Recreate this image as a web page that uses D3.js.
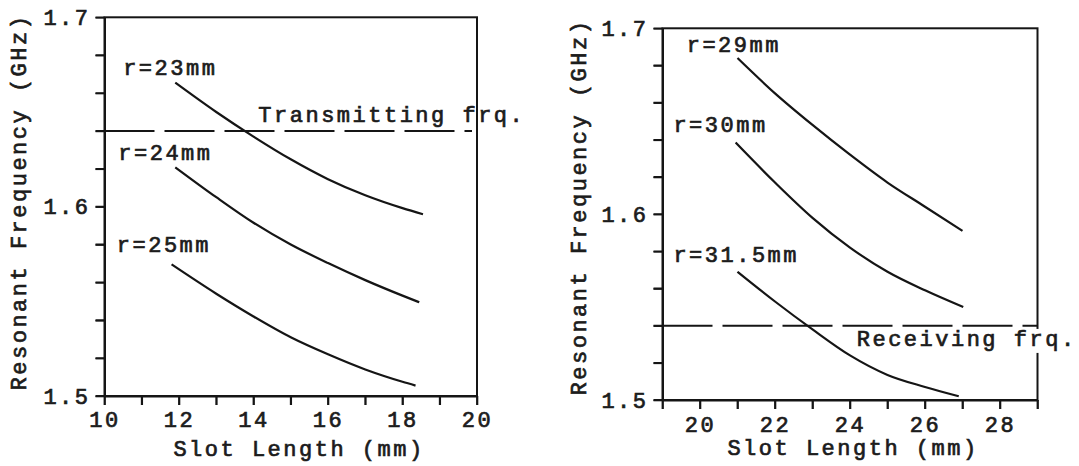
<!DOCTYPE html>
<html>
<head>
<meta charset="utf-8">
<script src="https://cdn.jsdelivr.net/npm/d3@7"></script>
<style>
  body { margin: 0; background: #fff; }
  svg text {
    font-family: "Liberation Mono", "DejaVu Sans Mono", monospace;
    font-size: 22px;
    letter-spacing: 2.5px;
    fill: #1c1c1c;
    stroke: #1c1c1c;
    stroke-width: 0.7px;
  }
</style>
</head>
<body>
<svg id="chart" width="1079" height="466"></svg>
<script>
// ---- data ----
// left panel: slot length (mm) vs resonant frequency (GHz)
const slot23 = [11.9, 13, 14, 15, 16, 17, 18, 18.55];
const freq23 = [1.6655, 1.650, 1.637, 1.625, 1.6145, 1.606, 1.5992, 1.596];
const slot24 = [11.9, 13, 14, 15, 16, 17, 18, 18.45];
const freq24 = [1.6208, 1.605, 1.5915, 1.580, 1.5702, 1.5612, 1.553, 1.5495];
const slot25 = [11.8, 13, 14, 15, 16, 17, 18, 18.35];
const freq25 = [1.5695, 1.554, 1.542, 1.531, 1.522, 1.514, 1.5075, 1.5055];

// right panel
const slot29 = [21.0, 22, 23, 24, 25, 26, 27];
const freq29 = [1.684, 1.665, 1.648, 1.632, 1.617, 1.604, 1.591];
const slot30 = [20.95, 22, 23, 24, 25, 26, 27.02];
const freq30 = [1.6385, 1.617, 1.598, 1.582, 1.569, 1.559, 1.550];
const slot315 = [21.0, 22, 23, 24, 25, 26, 26.9];
const freq315 = [1.569, 1.553, 1.538, 1.524, 1.5135, 1.507, 1.502];

const transmitFreq = 1.64;
const receiveFreq = 1.54;

const leftXTicks = [10, 11, 12, 13, 14, 15, 16, 17, 18, 19, 20];
const rightXTicks = [19, 20, 21, 22, 23, 24, 25, 26, 27, 28, 29];
const yTicks = [1.5, 1.52, 1.54, 1.56, 1.58, 1.6, 1.62, 1.64, 1.66, 1.68, 1.7];

// curve labels (anchored in data units)
const leftLabels = [
  { text: "r=23mm", x: 10.5, y: 1.6695 },
  { text: "r=24mm", x: 10.37, y: 1.6246 },
  { text: "r=25mm", x: 10.33, y: 1.5762 }
];
const rightLabels = [
  { text: "r=29mm", x: 19.645, y: 1.6874 },
  { text: "r=30mm", x: 19.29, y: 1.6444 },
  { text: "r=31.5mm", x: 19.29, y: 1.5744 }
];

const svg = d3.select("#chart");

const panels = [
  {
    xDomain: [10, 20], xRange: [104.5, 477], yRange: [396, 17.3],
    xTicks: leftXTicks, labelPad: 6.5,
    series: [[slot23, freq23], [slot24, freq24], [slot25, freq25]],
    labels: leftLabels,
    refFreq: transmitFreq, refText: "Transmitting frq.", refTextPos: { x: 14.13, y: 1.6449 },
    refEnd: 472,
    xTitlePos: [299, 456], yTitlePos: [26, 202]
  },
  {
    xDomain: [19, 29], xRange: [662.5, 1037.5], yRange: [400, 28.3],
    xTicks: rightXTicks, labelPad: 7.5,
    series: [[slot29, freq29], [slot30, freq30], [slot315, freq315]],
    labels: rightLabels,
    refFreq: receiveFreq, refText: "Receiving frq.", refTextPos: { x: 24.18, y: 1.5291 },
    refEnd: null,
    xTitlePos: [853, 455], yTitlePos: [586, 207]
  }
];

const ink = "#151515";

function isMajorY(d) { return Math.abs(d * 10 - Math.round(d * 10)) < 1e-6; }

panels.forEach(p => {
  const x = d3.scaleLinear().domain(p.xDomain).range(p.xRange);
  const y = d3.scaleLinear().domain([1.5, 1.7]).range(p.yRange);
  const g = svg.append("g");

  const xl = x.range()[0], xr = x.range()[1];
  const yt = y(1.7), yb = y(1.5);
  const base = y(p.refTextPos.y);

  // axes (tick labels)
  const xAxis = d3.axisBottom(x)
    .tickValues(p.xTicks)
    .tickSize(9).tickSizeOuter(0).tickPadding(p.labelPad)
    .tickFormat(d => d % 2 === 0 ? d : "");
  const yAxis = d3.axisLeft(y)
    .tickValues(yTicks)
    .tickSize(9).tickSizeOuter(0).tickPadding(5)
    .tickFormat(d => isMajorY(d) ? d3.format(".1f")(d) : "");

  const gx = g.append("g").attr("transform", `translate(0,${yb})`).call(xAxis);
  const gy = g.append("g").attr("transform", `translate(${xl},0)`).call(yAxis);
  [gx, gy].forEach(a => {
    a.attr("font-family", null).attr("font-size", null);
    a.select(".domain").attr("stroke", ink).attr("stroke-width", 2);
    a.selectAll(".tick line").attr("stroke", ink).attr("stroke-width", 1.6);
  });

  // dashed reference frequency
  g.append("line")
    .attr("x1", xl).attr("x2", p.refEnd || xr)
    .attr("y1", y(p.refFreq)).attr("y2", y(p.refFreq))
    .attr("stroke", ink).attr("stroke-width", 2)
    .attr("stroke-dasharray", "50,10");

  // curves
  const lineGen = d3.line()
    .x(d => x(d[0])).y(d => y(d[1]))
    .curve(d3.curveMonotoneX);
  p.series.forEach(([xs, ys]) => {
    g.append("path")
      .datum(xs.map((v, i) => [v, ys[i]]))
      .attr("d", lineGen)
      .attr("fill", "none")
      .attr("stroke", ink)
      .attr("stroke-width", 2.2);
  });

  // curve labels
  g.selectAll(".clabel")
    .data(p.labels)
    .enter().append("text")
    .attr("class", "clabel")
    .attr("x", d => x(d.x)).attr("y", d => y(d.y))
    .text(d => d.text);

  // axis titles
  g.append("text")
    .attr("x", p.xTitlePos[0]).attr("y", p.xTitlePos[1])
    .attr("text-anchor", "middle")
    .text("Slot Length (mm)");
  g.append("text")
    .attr("transform", `translate(${p.yTitlePos[0]},${p.yTitlePos[1]}) rotate(-90)`)
    .attr("text-anchor", "middle")
    .text("Resonant Frequency (GHz)");

  // frame and tick marks on top of everything, as one path
  const tickPath = d3.path();
  p.xTicks.forEach(t => { tickPath.moveTo(x(t), yb); tickPath.lineTo(x(t), yb + 9); });
  yTicks.forEach(t => { tickPath.moveTo(xl - 9, y(t)); tickPath.lineTo(xl, y(t)); });
  g.append("path")
    .attr("d", tickPath.toString())
    .attr("fill", "none")
    .attr("stroke", ink)
    .attr("stroke-width", 1.8);

  g.append("rect")
    .attr("x", xl).attr("y", yt)
    .attr("width", xr - xl).attr("height", yb - yt)
    .attr("fill", "none")
    .attr("stroke", ink)
    .attr("stroke-width", 2);

  // reference label over a white box that breaks the right frame line
  const refLabel = g.append("text")
    .attr("x", x(p.refTextPos.x)).attr("y", base)
    .text(p.refText);
  const bb = refLabel.node().getBBox();
  const boxTop = Math.max(base - 17, y(p.refFreq) + 2);
  g.insert("rect", () => refLabel.node())
    .attr("x", bb.x - 2).attr("y", boxTop)
    .attr("width", bb.width + 4).attr("height", base + 7 - boxTop)
    .attr("fill", "#fff");
});
</script>
</body>
</html>
